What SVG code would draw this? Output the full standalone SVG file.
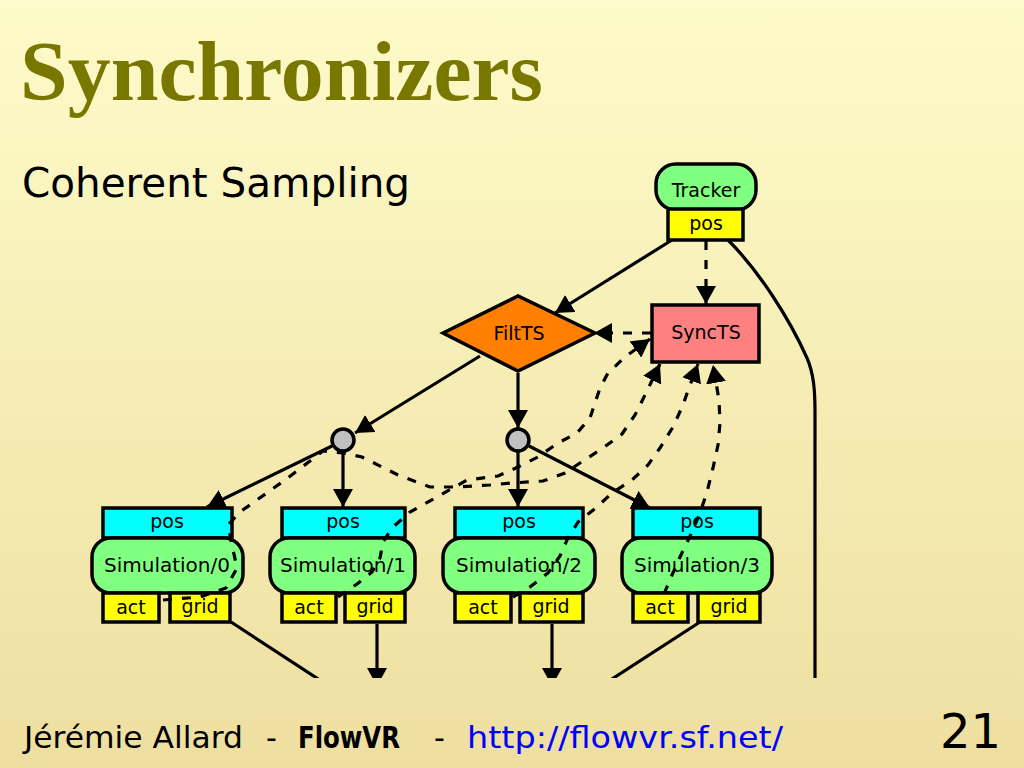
<svg xmlns="http://www.w3.org/2000/svg" width="1024" height="768" viewBox="0 0 1024 768">
<defs>
<linearGradient id="bg" x1="0" y1="0" x2="0" y2="1">
<stop offset="0" stop-color="#fefbca"/>
<stop offset="1" stop-color="#eedfa0"/>
</linearGradient>
<clipPath id="clip"><rect x="0" y="0" width="1024" height="678"/></clipPath>
<marker id="ah" viewBox="0 0 18 20" markerWidth="18" markerHeight="20" refX="18" refY="10" orient="auto" markerUnits="userSpaceOnUse">
<path d="M0,0 L18,10 L0,20 z" fill="#000"/>
</marker>
<style>
.ln{fill:none;stroke:#000;stroke-width:3.2}
.ds{fill:none;stroke:#000;stroke-width:3.2;stroke-dasharray:9 10}
.arr{marker-end:url(#ah)}
.nd{stroke:#000;stroke-width:3.5}
.green{fill:#80ff80}
.yel{fill:#ffff00}
.cy{fill:#00ffff}
.t{font-family:"DejaVu Sans","Liberation Sans",sans-serif;font-size:19px;fill:#000;text-anchor:middle}
.sim{font-size:20px}
</style>
</defs>
<rect x="0" y="0" width="1024" height="768" fill="url(#bg)"/>
<text x="20" y="100" font-family="Liberation Serif, serif" font-weight="bold" font-size="84" fill="#787800" textLength="523" lengthAdjust="spacingAndGlyphs">Synchronizers</text>
<text x="22" y="197" font-family="DejaVu Sans, sans-serif" font-size="40" fill="#000" textLength="388" lengthAdjust="spacingAndGlyphs">Coherent Sampling</text>

<g clip-path="url(#clip)">
<g id="tracker">
<rect class="nd green" x="656" y="164" width="100" height="46" rx="20" ry="20"/>
<text class="t" x="706" y="197" font-size="21">Tracker</text>
<rect class="nd yel" x="668" y="209" width="75" height="31"/>
<text class="t" x="706" y="230">pos</text>
</g>
<g id="filtts">
<polygon class="nd" points="443,333 518,296 595,333 518,371" fill="#ff8000"/>
<text class="t" x="519" y="340" font-size="20">FiltTS</text>
</g>
<g id="syncts">
<rect class="nd" x="652" y="305" width="107" height="57" fill="#ff8080"/>
<text class="t" x="706" y="339" font-size="20">SyncTS</text>
</g>
<g id="bcast1"><circle class="nd" cx="343" cy="440" r="11" fill="#c0c0c0"/></g>
<g id="bcast2"><circle class="nd" cx="518" cy="440" r="11" fill="#c0c0c0"/></g>

<g id="sim0">
<rect class="nd cy" x="103" y="508" width="129" height="30"/>
<text class="t" x="167" y="528">pos</text>
<rect class="nd green" x="92" y="538" width="151" height="55" rx="19" ry="19"/>
<text class="t sim" x="167" y="572">Simulation/0</text>
<rect class="nd yel" x="103" y="593" width="56" height="29"/>
<text class="t" x="131" y="614">act</text>
<rect class="nd yel" x="170" y="593" width="60" height="29"/>
<text class="t" x="200" y="613">grid</text>
</g>
<g id="sim1">
<rect class="nd cy" x="282" y="508" width="123" height="30"/>
<text class="t" x="343" y="528">pos</text>
<rect class="nd green" x="270" y="538" width="145" height="55" rx="19" ry="19"/>
<text class="t sim" x="343" y="572">Simulation/1</text>
<rect class="nd yel" x="282" y="593" width="54" height="29"/>
<text class="t" x="309" y="614">act</text>
<rect class="nd yel" x="345" y="593" width="60" height="29"/>
<text class="t" x="375" y="613">grid</text>
</g>
<g id="sim2">
<rect class="nd cy" x="455" y="508" width="128" height="30"/>
<text class="t" x="519" y="528">pos</text>
<rect class="nd green" x="443" y="538" width="152" height="55" rx="19" ry="19"/>
<text class="t sim" x="519" y="572">Simulation/2</text>
<rect class="nd yel" x="455" y="593" width="56" height="29"/>
<text class="t" x="483" y="614">act</text>
<rect class="nd yel" x="520" y="593" width="63" height="29"/>
<text class="t" x="551" y="613">grid</text>
</g>
<g id="sim3">
<rect class="nd cy" x="633" y="508" width="127" height="30"/>
<text class="t" x="697" y="528">pos</text>
<rect class="nd green" x="622" y="538" width="150" height="55" rx="19" ry="19"/>
<text class="t sim" x="697" y="572">Simulation/3</text>
<rect class="nd yel" x="633" y="593" width="55" height="29"/>
<text class="t" x="660" y="614">act</text>
<rect class="nd yel" x="698" y="593" width="62" height="29"/>
<text class="t" x="729" y="613">grid</text>
</g>

<g id="connectors">
<path class="ln arr" d="M672,240 L555,313"/>
<path class="ds arr" d="M706,241 L706,304"/>
<path class="ln" d="M728,240 C760,272 790,320 807,358 C814,374 815,392 815,412 L815,690"/>
<path class="ds arr" d="M651,333 L594,333"/>
<path class="ln arr" d="M518,373 L518,428"/>
<path class="ln arr" d="M480,356 L355,433"/>
<path class="ln arr" d="M332,446 L207,507"/>
<path class="ln arr" d="M343,452 L343,507"/>
<path class="ln arr" d="M518,452 L518,507"/>
<path class="ln arr" d="M529,446 L650,508"/>
<path class="ln" d="M231,622 L335,690"/>
<path class="ln arr" d="M377,624 L377,686"/>
<path class="ln arr" d="M552,624 L552,686"/>
<path class="ln" d="M700,622 L595,690"/>
<path class="ds arr" d="M163,600 L200,597 L226,588 L237,568 L232,545 L228,525 L240,512 L285,480 L323,451 L343,453 L362,457 L398,475 L430,487 L455,487 L490,485 L512,483 L543,481 L565,473 L583,461 L603,448 L622,434 L635,415 L645,395 L660,364"/>
<path class="ds arr" d="M338,597 L357,584 L372,572 L380,558 L383,542 L392,528 L410,512 L437,497 L467,480 L498,476 L518,467 L538,457 L558,443 L577,433 L590,418 L596,400 L600,388 L608,373 L625,357 L650,339"/>
<path class="ds arr" d="M513,597 L530,587 L548,573 L560,556 L567,540 L578,522 L597,507 L612,493 L632,480 L648,465 L660,448 L673,427 L683,405 L690,385 L698,364"/>
<path class="ds arr" d="M664,594 L672,575 L680,557 L692,532 L700,513 L707,492 L713,468 L718,445 L720,423 L719,400 L713,365"/>
</g>
</g>

<g id="footer" font-family="DejaVu Sans, sans-serif" font-size="30">
<text x="24" y="748" fill="#000" textLength="219" lengthAdjust="spacingAndGlyphs">Jérémie Allard</text>
<text x="266" y="748" fill="#000">-</text>
<text x="298" y="748" fill="#000" font-weight="bold" textLength="102" lengthAdjust="spacingAndGlyphs">FlowVR</text>
<text x="434" y="748" fill="#000">-</text>
<text x="467" y="748" fill="#0000ff" textLength="316" lengthAdjust="spacingAndGlyphs">http://flowvr.sf.net/</text>
<text x="1001" y="748" fill="#000" font-size="48" text-anchor="end">21</text>
</g>
</svg>
